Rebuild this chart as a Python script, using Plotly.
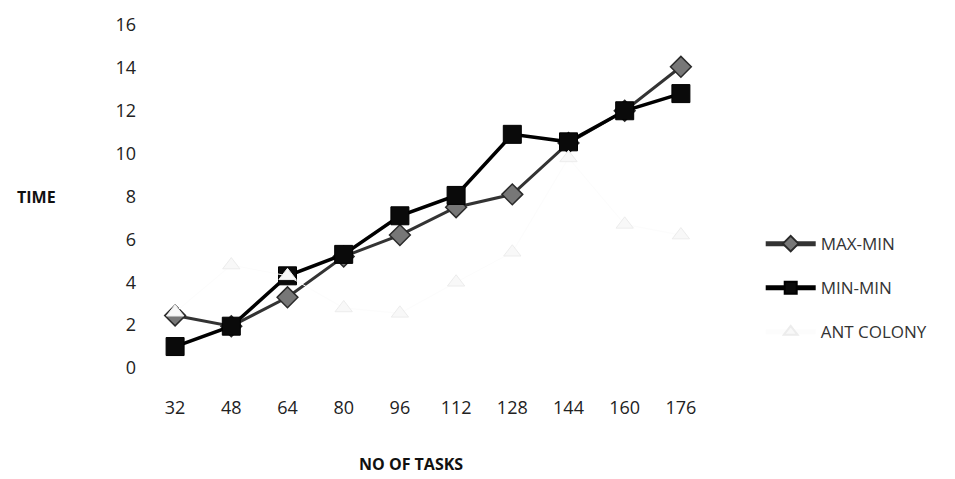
import plotly.graph_objects as go

# Number of tasks on the x axis
tasks = ["32", "48", "64", "80", "96", "112", "128", "144", "160", "176"]

# Completion time for each scheduling heuristic
max_min = [2.45, 1.95, 3.3, 5.2, 6.2, 7.5, 8.1, 10.5, 12.0, 14.05]
min_min = [1.0, 1.95, 4.3, 5.3, 7.1, 8.05, 10.9, 10.55, 12.0, 12.8]
ant_colony = [2.6, 4.8, 4.3, 2.8, 2.55, 4.0, 5.4, 9.8, 6.7, 6.2]

y_ticks = [0, 2, 4, 6, 8, 10, 12, 14, 16]

FONT = "Open Sans"

fig = go.Figure()

fig.add_trace(go.Scatter(
    x=tasks, y=max_min, name="MAX-MIN", mode="lines+markers",
    line=dict(color="#333333", width=3),
    marker=dict(symbol="diamond", size=16, color="#777777",
                line=dict(color="#2a2a2a", width=1.5)),
    legendgroup="a",
))
fig.add_trace(go.Scatter(
    x=tasks, y=min_min, name="MIN-MIN", mode="lines+markers",
    line=dict(color="#000000", width=3.5),
    marker=dict(symbol="square", size=18, color="#0a0a0a",
                line=dict(color="#000000", width=1)),
    legendgroup="b",
))
fig.add_trace(go.Scatter(
    x=tasks, y=ant_colony, name="ANT COLONY", mode="lines+markers",
    line=dict(color="#fcfcfc", width=1),
    marker=dict(symbol="triangle-up", size=15, color="#f8f8f8",
                line=dict(color="#ececec", width=1)),
    legendgroup="c",
))

fig.update_layout(
    width=955, height=479,
    margin=dict(l=147, r=246, t=21, b=111),
    paper_bgcolor="white", plot_bgcolor="white",
    font=dict(family=FONT, size=17, color="#222222"),
    showlegend=True,
    legend=dict(
        x=1.092, y=0.233, xanchor="left", yanchor="middle",
        traceorder="grouped", tracegroupgap=19, itemwidth=50,
        itemsizing="constant",
        font=dict(family=FONT, size=17, color="#333333"),
        bgcolor="rgba(0,0,0,0)",
    ),
    xaxis=dict(
        type="category", range=[-0.5, 9.5],
        showgrid=False, showline=False, zeroline=False, ticks="",
        ticklabelstandoff=27,
        tickfont=dict(family=FONT, size=18, color="#222222"),
    ),
    yaxis=dict(
        range=[0, 16], tickvals=y_ticks,
        showgrid=False, showline=False, zeroline=False, ticks="",
        ticklabelstandoff=10,
        tickfont=dict(family=FONT, size=18, color="#222222"),
    ),
    annotations=[
        dict(text="<b>TIME</b>", xref="paper", yref="paper",
             x=-0.197, y=0.5, xanchor="center", yanchor="middle",
             showarrow=False, font=dict(family=FONT, size=16, color="#111111")),
        dict(text="<b>NO OF TASKS</b>", xref="paper", yref="paper",
             x=0.47, y=-0.28, xanchor="center", yanchor="middle",
             showarrow=False, font=dict(family=FONT, size=16, color="#111111")),
    ],
)

fig.write_html("out.html")
